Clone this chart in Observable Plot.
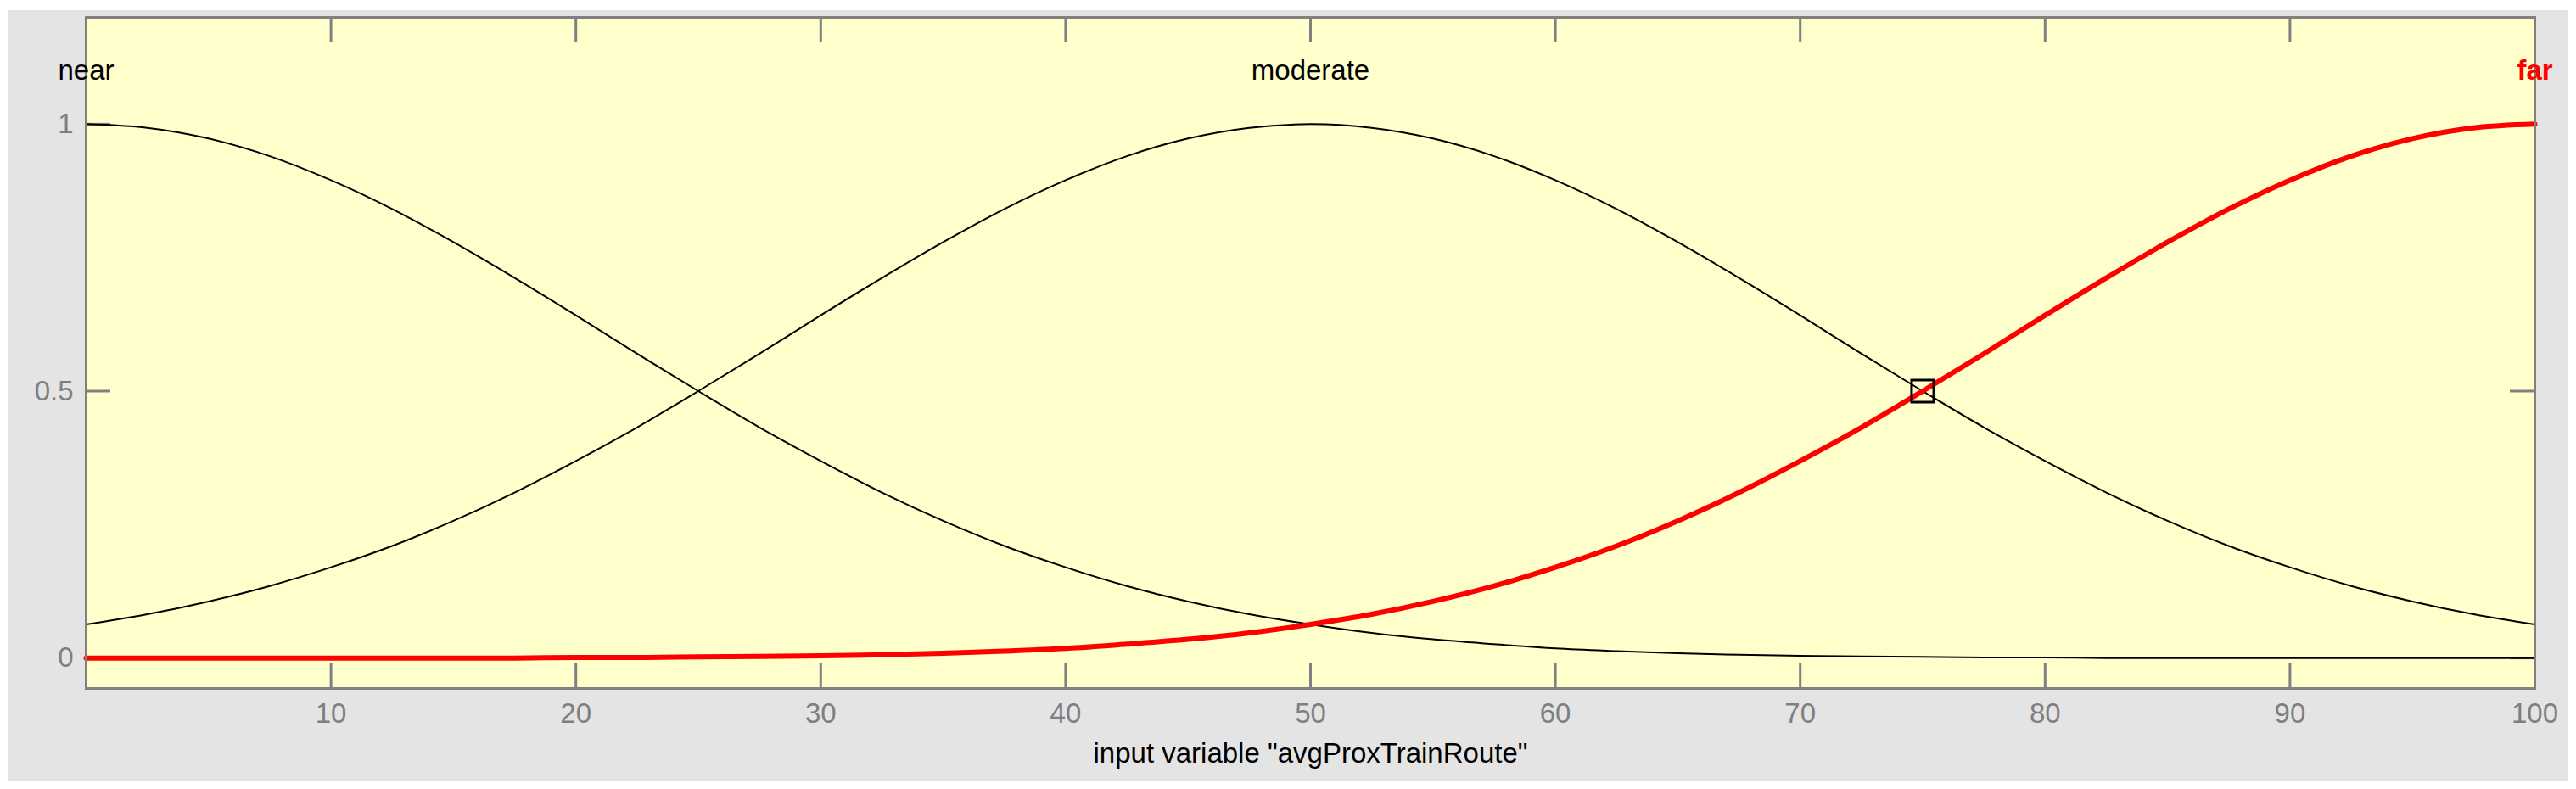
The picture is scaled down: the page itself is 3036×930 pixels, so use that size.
<!DOCTYPE html>
<html><head><meta charset="utf-8">
<script src="https://cdn.jsdelivr.net/npm/d3@7"></script>
<script src="https://cdn.jsdelivr.net/npm/@observablehq/plot@0.6"></script>
<style>
body{margin:0;background:#ffffff;width:3036px;height:930px;overflow:hidden;position:relative;}
#chart{position:absolute;left:9px;top:12px;}
</style></head><body><div id="chart"></div>
<script>
const xs = [0,2.5,5,7.5,10,12.5,15,17.5,20,22.5,25,27.5,30,32.5,35,37.5,40,42.5,45,47.5,50,
            52.5,55,57.5,60,62.5,65,67.5,70,72.5,75,77.5,80,82.5,85,87.5,90,92.5,95,97.5,100];
const nearVals = [1.000,0.993,0.973,0.940,0.895,0.841,0.779,0.712,0.642,0.570,0.500,0.432,0.369,0.310,0.257,0.210,0.170,0.135,0.106,0.082,0.063,
                  0.047,0.035,0.026,0.018,0.013,0.009,0.006,0.004,0.003,0.002,0.001,0.001,0,0,0,0,0,0,0,0];
const moderateVals = [0.063,0.082,0.106,0.135,0.170,0.210,0.257,0.310,0.369,0.432,0.500,0.570,0.642,0.712,0.779,0.841,0.895,0.940,0.973,0.993,1.000,
                      0.993,0.973,0.940,0.895,0.841,0.779,0.712,0.642,0.570,0.500,0.432,0.369,0.310,0.257,0.210,0.170,0.135,0.106,0.082,0.063];
const farVals = [0,0,0,0,0,0,0,0,0.001,0.001,0.002,0.003,0.004,0.006,0.009,0.013,0.018,0.026,0.035,0.047,0.063,
                 0.082,0.106,0.135,0.170,0.210,0.257,0.310,0.369,0.432,0.500,0.570,0.642,0.712,0.779,0.841,0.895,0.940,0.973,0.993,1.000];
const mfNames = ["near","moderate","far"];
const mfCenters = [0,50,100];
const labelLevel = 1.1;
const xTicks = [10,20,30,40,50,60,70,80,90,100];
const yTicks = [0,0.5,1];
const marker = [{x:75,y:0.5}];
const xLabel = 'input variable "avgProxTrainRoute"';

const W = 3018, H = 908, mL = 92, mR = 40, mT = 8, mB = 109;
const fw = W - mL - mR, fh = H - mT - mB;
const font = "Liberation Sans, Arial, Helvetica, sans-serif";
const fs = 33;

const rows = (vals) => xs.map((x,i) => ({x, y: vals[i]}));
const labels = mfNames.map((name,i) => ({name, x: mfCenters[i]}));

const chart = Plot.plot({
  width: W, height: H,
  marginLeft: mL, marginRight: mR, marginTop: mT, marginBottom: mB,
  x: {domain: [0,100]},
  y: {domain: [-0.057,1.2]},
  style: {background: "#e4e4e4", fontFamily: font, fontSize: fs + "px", overflow: "visible"},
  marks: [
    Plot.frame({fill: "#ffffcc", stroke: "none"}),
    // inward ticks
    Plot.ruleX(xTicks, {x: d => d, stroke: "#808080", strokeWidth: 3, insetTop: fh - 29}),
    Plot.ruleX(xTicks, {x: d => d, stroke: "#808080", strokeWidth: 3, insetBottom: fh - 29}),
    Plot.ruleY(yTicks, {y: d => d, stroke: "#808080", strokeWidth: 3, insetRight: fw - 29}),
    Plot.ruleY(yTicks, {y: d => d, stroke: "#808080", strokeWidth: 3, insetLeft: fw - 29}),
    Plot.line(rows(nearVals), {x: "x", y: "y", stroke: "black", strokeWidth: 2, curve: "catmull-rom"}),
    Plot.line(rows(moderateVals), {x: "x", y: "y", stroke: "black", strokeWidth: 2, curve: "catmull-rom"}),
    Plot.line(rows(farVals), {x: "x", y: "y", stroke: "#ff0000", strokeWidth: 6, curve: "catmull-rom"}),
    Plot.dot(marker, {x: "x", y: "y", symbol: "square", r: 14.7, stroke: "black", strokeWidth: 3, fill: "none"}),
    Plot.frame({stroke: "#808080", strokeWidth: 3}),
    Plot.text(labels.filter(d => d.name !== "far"), {x: "x", y: () => labelLevel, text: "name", fill: "black", fontSize: fs, fontFamily: font}),
    Plot.text(labels.filter(d => d.name === "far"), {x: "x", y: () => labelLevel, text: "name", fill: "#ff0000", fontWeight: "bold", fontSize: fs, fontFamily: font}),
    Plot.axisX(xTicks, {tickSize: 0, tickPadding: 17, fill: "#7f7f7f", fontSize: fs, fontFamily: font, label: null}),
    Plot.axisY(yTicks, {tickSize: 0, tickPadding: 15, fill: "#7f7f7f", fontSize: fs, fontFamily: font, label: null, tickFormat: d => String(d)}),
    Plot.text([xLabel], {frameAnchor: "bottom", dy: 87, lineAnchor: "bottom", text: d => d, fill: "black", fontSize: fs, fontFamily: font})
  ]
});
document.getElementById("chart").appendChild(chart);
</script>
</body></html>
